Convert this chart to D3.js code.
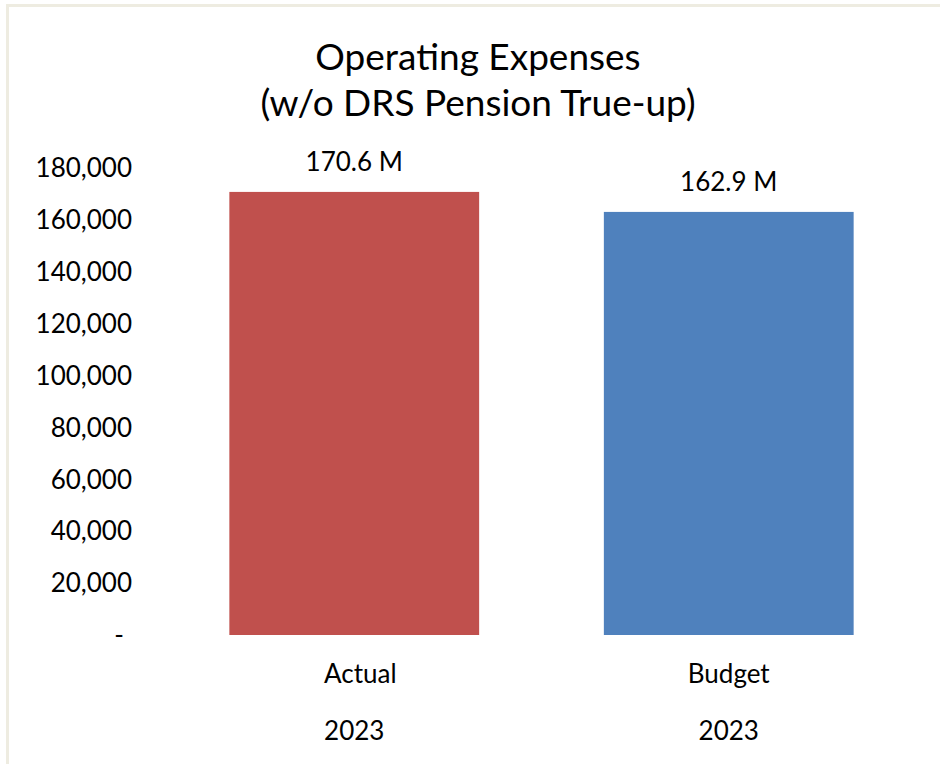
<!DOCTYPE html>
<html>
<head>
<meta charset="utf-8">
<script src="https://cdn.jsdelivr.net/npm/d3@7"></script>
<style>
  html, body { margin: 0; padding: 0; background: #ffffff; }
  svg { display: block; }
  text { font-family: Lato, "Open Sans", sans-serif; fill: #000; }
</style>
</head>
<body>
<svg id="chart" width="940" height="764"></svg>
<script>
// Operating expenses, thousands of dollars
const categories = ["Actual", "Budget"];
const years = ["2023", "2023"];
const values = [170600, 162900];
const valueLabels = ["170.6 M", "162.9 M"];
const barColors = ["#C0504D", "#4F81BD"];
const yTicks = [0, 20000, 40000, 60000, 80000, 100000, 120000, 140000, 160000, 180000];
const titleLines = ["Operating Expenses", "(w/o DRS Pension True-up)"];

const W = 940, H = 764;
const plot = { left: 167, right: 916, top: 167.5, bottom: 635 };

const svg = d3.select("#chart");

// light frame along the top and left edges
svg.append("rect").attr("x", 6).attr("y", 4).attr("width", W - 6).attr("height", 3).attr("fill", "#EEECE1");
svg.append("rect").attr("x", 6).attr("y", 4).attr("width", 3).attr("height", H - 4).attr("fill", "#EEECE1");

const x = d3.scaleBand()
  .domain(categories)
  .range([plot.left, plot.right])
  .paddingInner(0.333)
  .paddingOuter(0.1665);

const y = d3.scaleLinear()
  .domain([0, 180000])
  .range([plot.bottom, plot.top]);

// title
const title = svg.append("g").attr("text-anchor", "middle");
title.selectAll("text")
  .data(titleLines)
  .join("text")
  .attr("x", 478)
  .attr("y", (d, i) => 70 + i * 46)
  .attr("font-size", 37)
  .text(d => d);

// y axis: labels only, no line or tick marks
const fmt = d3.format(",");
const yAxis = d3.axisLeft(y)
  .tickValues(yTicks)
  .tickSize(0)
  .tickPadding(0)
  .tickFormat(d => d === 0 ? "-" : fmt(d));

const yg = svg.append("g")
  .attr("transform", `translate(${132},0)`)
  .call(yAxis);
yg.select(".domain").remove();
yg.selectAll(".tick text")
  .attr("font-size", 26)
  .attr("font-family", "Lato, 'Open Sans', sans-serif")
  .attr("fill", "#000")
  .attr("dy", "0.34em")
  .filter(d => d === 0)
  .attr("dx", -8);

// bars
svg.append("g")
  .selectAll("rect")
  .data(categories)
  .join("rect")
  .attr("x", d => x(d))
  .attr("width", x.bandwidth())
  .attr("y", (d, i) => y(values[i]))
  .attr("height", (d, i) => y(0) - y(values[i]))
  .attr("fill", (d, i) => barColors[i]);

// value labels above bars
svg.append("g").attr("text-anchor", "middle")
  .selectAll("text")
  .data(categories)
  .join("text")
  .attr("x", d => x(d) + x.bandwidth() / 2)
  .attr("y", (d, i) => y(values[i]) - 21)
  .attr("font-size", 26)
  .text((d, i) => valueLabels[i]);

// category axis: name and year on two lines
const xAxis = d3.axisBottom(x).tickSize(0).tickPadding(0).tickFormat(() => "");
const xg = svg.append("g").attr("transform", `translate(0,${plot.bottom})`).call(xAxis);
xg.select(".domain").remove();
xg.selectAll(".tick text").remove();
xg.selectAll(".tick").each(function (d, i) {
  const t = d3.select(this).append("text")
    .attr("text-anchor", "middle")
    .attr("font-size", 26)
    .attr("fill", "#000");
  t.append("tspan").attr("x", i === 0 ? 6 : 0).attr("y", 48).text(categories[i]);
  t.append("tspan").attr("x", 0).attr("y", 105).text(years[i]);
});
</script>
</body>
</html>
